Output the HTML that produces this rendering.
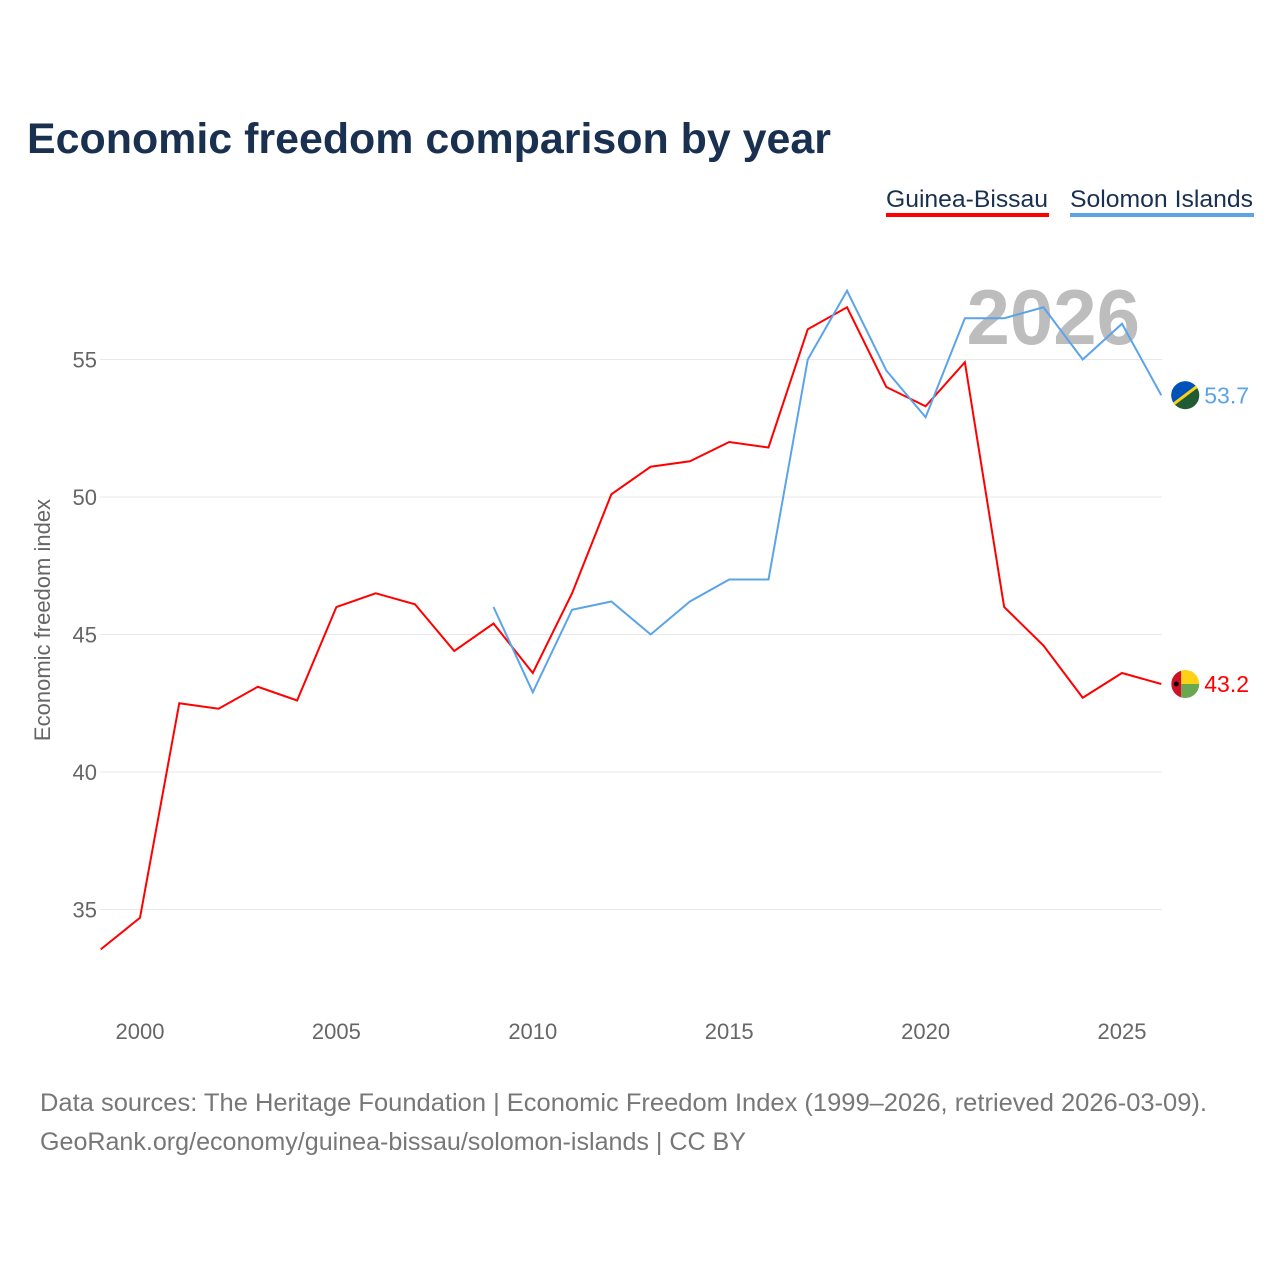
<!DOCTYPE html>
<html><head><meta charset="utf-8"><style>
body{margin:0;background:#fff;font-family:"Liberation Sans",sans-serif}
#wrap{position:relative;width:1280px;height:1280px}
</style></head><body>
<div id="wrap">
<svg id="chart" width="1280" height="1280">
<text x="27" y="153" font-size="43" font-weight="bold" fill="#1a3050" textLength="804" lengthAdjust="spacingAndGlyphs">Economic freedom comparison by year</text>
<g><text x="886" y="207" font-size="24" fill="#1a3050" textLength="162" lengthAdjust="spacingAndGlyphs">Guinea-Bissau</text><rect x="886" y="213" width="163" height="4" fill="#ff0000"/></g>
<g><text x="1070" y="207" font-size="24" fill="#1a3050" textLength="183" lengthAdjust="spacingAndGlyphs">Solomon Islands</text><rect x="1070" y="213" width="184" height="4" fill="#5ba4ea"/></g>
<text x="1140" y="344" font-size="78" font-weight="bold" fill="#bdbdbd" text-anchor="end">2026</text>
<text transform="translate(50,620) rotate(-90)" font-size="22" fill="#666" text-anchor="middle">Economic freedom index</text>
<g id="grid"></g><g id="xt"></g><g id="series"></g>
<text x="40" y="1111" font-size="25" fill="#777" textLength="1167" lengthAdjust="spacingAndGlyphs">Data sources: The Heritage Foundation | Economic Freedom Index (1999–2026, retrieved 2026-03-09).</text>
<text x="40" y="1150" font-size="25" fill="#777" textLength="706" lengthAdjust="spacingAndGlyphs">GeoRank.org/economy/guinea-bissau/solomon-islands | CC BY</text>
</svg></div>
<script>
const years=[1999,2000,2001,2002,2003,2004,2005,2006,2007,2008,2009,2010,2011,2012,2013,2014,2015,2016,2017,2018,2019,2020,2021,2022,2023,2024,2025,2026];
const guineaBissau=[33.55,34.7,42.5,42.3,43.1,42.6,46.0,46.5,46.1,44.4,45.4,43.6,46.5,50.1,51.1,51.3,52.0,51.8,56.1,56.9,54.0,53.3,54.9,46.0,44.6,42.7,43.6,43.2];
const solomonYears=[2009,2010,2011,2012,2013,2014,2015,2016,2017,2018,2019,2020,2021,2022,2023,2024,2025,2026];
const solomonIslands=[46.0,42.9,45.9,46.2,45.0,46.2,47.0,47.0,55.0,57.5,54.6,52.9,56.5,56.5,56.9,55.0,56.3,53.7];
const yTicks=[35,40,45,50,55];
const xTicks=[2000,2005,2010,2015,2020,2025];
const NS="http://www.w3.org/2000/svg";
const X=y=>140+(y-2000)*39.28;
const Y=v=>497-(v-50)*27.5;
function mk(t,a,p){const e=document.createElementNS(NS,t);for(const k in a)e.setAttribute(k,a[k]);p.appendChild(e);return e;}
const grid=document.getElementById('grid');
yTicks.forEach(v=>{
 const l=mk('line',{x1:100,x2:1162,y1:Y(v),y2:Y(v),stroke:'#e8e8e8','stroke-width':1},grid);
 
 
 const t=mk('text',{x:97,y:Y(v)+8,'font-size':22,fill:'#666','text-anchor':'end'},grid);t.textContent=v;
 
 
});
const xt=document.getElementById('xt');
xTicks.forEach(v=>{
 const t=mk('text',{x:X(v),y:1039,'font-size':22,fill:'#666','text-anchor':'middle'},xt);t.textContent=v;
 
 
});
const s=document.getElementById('series');
function line(xs,vs,col,name,flag){
 const p=mk('polyline',{points:xs.map((y,i)=>X(y)+','+Y(vs[i])).join(' '),fill:'none',stroke:col,'stroke-width':2},s);
 
 
 const last=vs[vs.length-1],lx=X(xs[xs.length-1])+24,ly=Y(last);
 const g=mk('g',{},s);
 
 
 flag(g,lx,ly);
 const t=mk('text',{x:lx+19,y:ly+8,'font-size':23,fill:col},s);t.textContent=last.toFixed(1);
 
 
}
line(years,guineaBissau,'#ff0000','guinea-bissau',(g,cx,cy)=>{
 const r=14;
 mk('path',{d:`M${cx-4},${cy-r+0.6} A${r},${r} 0 0 0 ${cx-4},${cy+r-0.6} Z`,fill:'#ce1126'},g);
 mk('path',{d:`M${cx-4},${cy-r+0.6} A${r},${r} 0 0 1 ${cx+r},${cy} L${cx-4},${cy} Z`,fill:'#fcd116'},g);
 mk('path',{d:`M${cx-4},${cy+r-0.6} A${r},${r} 0 0 0 ${cx+r},${cy} L${cx-4},${cy} Z`,fill:'#6aa84f'},g);
 mk('circle',{cx:cx-9,cy:cy,r:2.5,fill:'#000'},g);
});
line(solomonYears,solomonIslands,'#5ba4ea','solomon-islands',(g,cx,cy)=>{
 const r=14;
 mk('circle',{cx:cx,cy:cy,r:r,fill:'#215b33'},g);
 mk('path',{d:`M${cx-r*0.8},${cy+r*0.6} A${r},${r} 0 0 1 ${cx+r*0.8},${cy-r*0.6} Z`,fill:'#0051ba'},g);
 mk('line',{x1:cx-r*0.8,y1:cy+r*0.6,x2:cx+r*0.8,y2:cy-r*0.6,stroke:'#fcd116','stroke-width':3},g);
});
</script></body></html>
